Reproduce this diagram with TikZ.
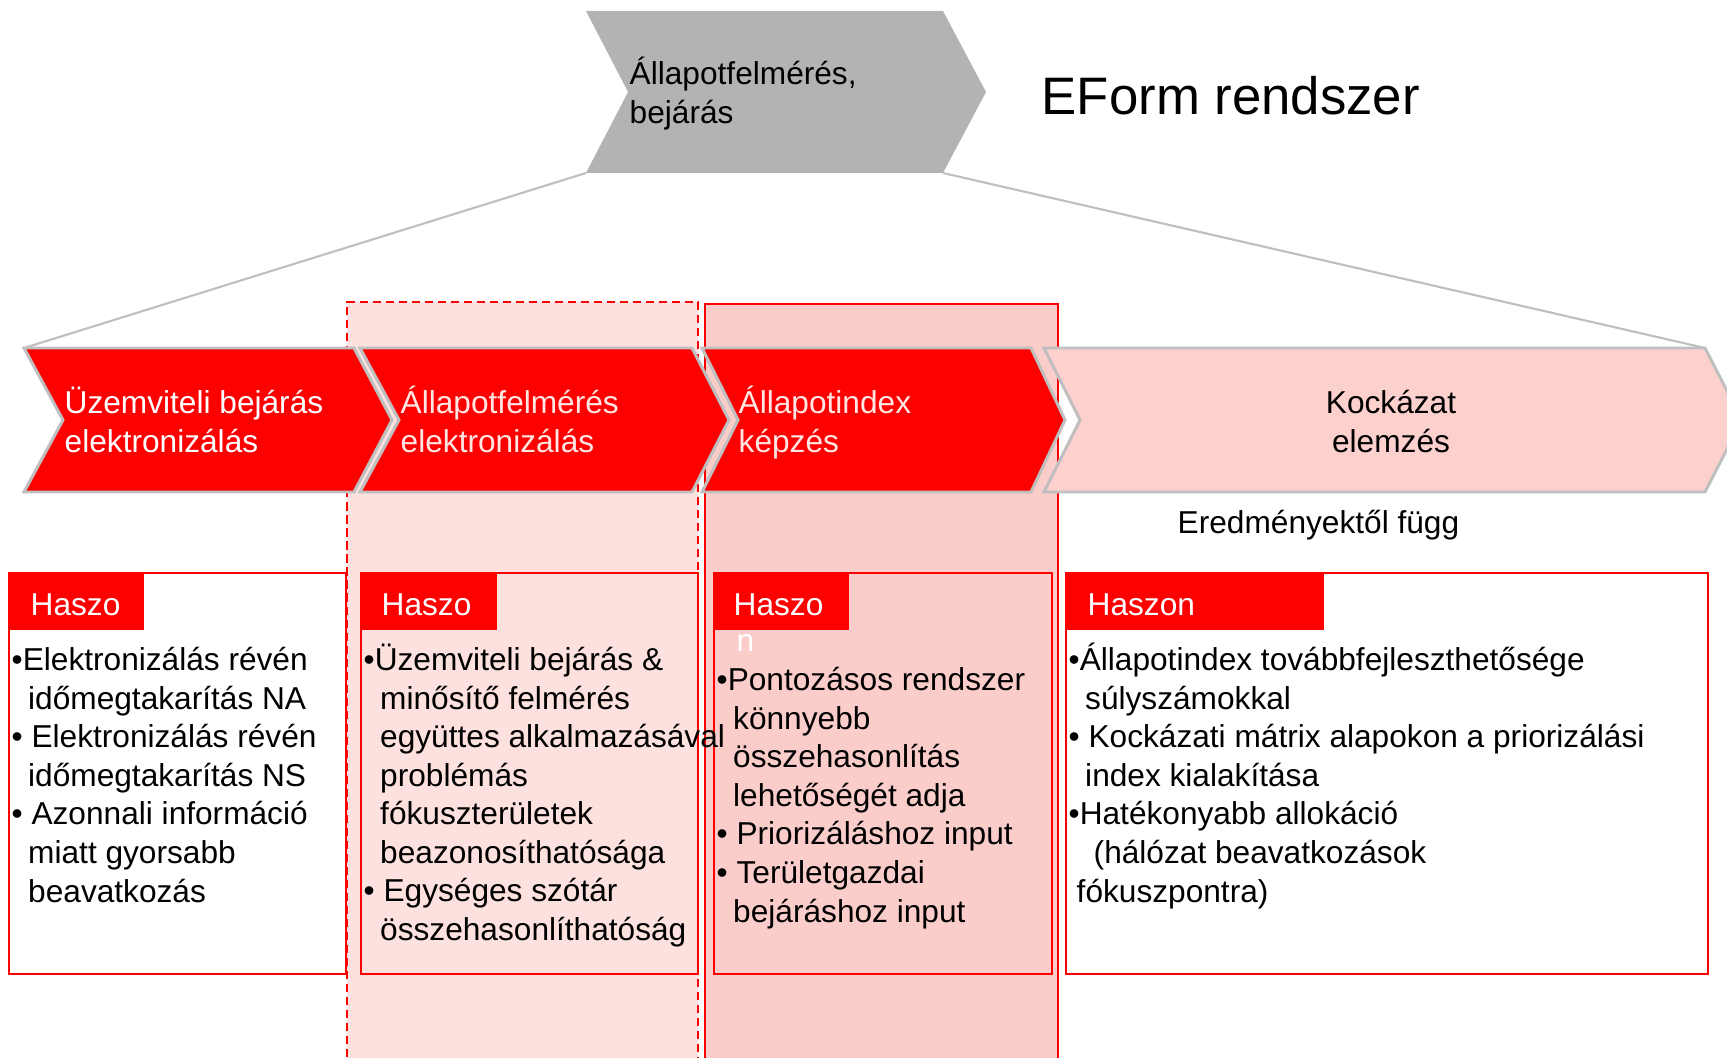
\documentclass[tikz,border=0pt]{standalone}
\usepackage{fontspec}
\setmainfont{Liberation Sans}
\usetikzlibrary{positioning}
\definecolor{mred}{HTML}{FD0000}
\definecolor{mgray}{HTML}{B3B3B3}
\definecolor{medge}{HTML}{BFBFBF}
\definecolor{mpale}{HTML}{FCD0CC}
\definecolor{mpink}{HTML}{FDE1DE}
\definecolor{mrose}{HTML}{FBCDCA}
\definecolor{mfaint}{HTML}{FFE6E3}
\newcommand{\indt}{\hspace*{0.165cm}}
\tikzset{chev/.style = {fill=mred, draw=medge, line width=0.85pt, line join=miter}}
\tikzset{link/.style = {draw=medge, line width=0.6pt}}
\tikzset{box/.style = {draw=mred, line width=0.6pt}}
\tikzset{tab/.style = {fill=mred}}
\tikzset{txt/.style = {font=\fontsize{9}{10.95}\selectfont, align=left, inner sep=0, anchor=base west}}

\begin{document}
\begin{tikzpicture}[x=0.01cm, y=-0.01cm]
    \useasboundingbox (0, 0) rectangle (1727, 1058);
    \clip (0, 0) rectangle (1727, 1058);

    % top chevron
    \fill [mgray] (586, 11) -- (943, 11) -- (986, 92) -- (943, 173) -- (586, 173) -- (628, 92) -- cycle;
    \coordinate (survey-sw) at (586, 173);
    \coordinate (survey-se) at (943, 173);
    \node [txt] (survey) at (629, 123.5) {Állapotfelmérés,\\bejárás};
    \node [txt, font=\fontsize{15}{18}\selectfont] (title) at (1041, 115) {EForm rendszer};

    % highlighted columns
    \draw [fill=mpink, draw=mred, dashed, dash pattern=on 2.3pt off 1.4pt, line width=0.5pt] (347, 1070) -- (347, 302) -- (698, 302) -- (698, 1070);
    \draw [fill=mrose, draw=mred, line width=0.5pt] (705, 1070) -- (705, 304) -- (1058, 304) -- (1058, 1070);

    % process row
    \draw [chev] (24, 348) -- (354, 348) -- (392, 420) -- (354, 492) -- (24, 492) -- (63, 420) -- cycle;
    \draw [chev] (360, 348) -- (692, 348) -- (729, 420) -- (692, 492) -- (360, 492) -- (399, 420) -- cycle;
    \draw [chev] (702, 348) -- (1031, 348) -- (1065, 420) -- (1031, 492) -- (702, 492) -- (738, 420) -- cycle;
    \draw [chev, fill=mpale] (1044, 348) -- (1705, 348) -- (1742, 420) -- (1705, 492) -- (1044, 492) -- (1080, 420) -- cycle;
    \coordinate (rowA-nw) at (24, 348);
    \coordinate (rowD-ne) at (1705, 348);

    \draw [link] (survey-sw) -- (rowA-nw);
    \draw [link] (survey-se) -- (rowD-ne);

    \node [txt, white] (rowA) at (64, 452.5) {Üzemviteli bejárás\\elektronizálás};
    \node [txt, mfaint] (rowB) at (400, 452.5) {Állapotfelmérés\\elektronizálás};
    \node [txt, mfaint] (rowC) at (738, 452.5) {Állapotindex\\képzés};
    \node [txt, align=center, anchor=base] (rowD) at (1391, 452.5) {Kockázat\\elemzés};
    \node [txt] (depends) at (1177, 534) {Eredményektől függ};

    % benefit boxes
    \draw [box, fill=white] (9, 573) rectangle (346, 974);
    \draw [box] (361, 573) rectangle (698, 974);
    \draw [box] (714, 573) rectangle (1052, 974);
    \draw [box, fill=white] (1066, 573) rectangle (1708, 974);

    \fill [tab] (9, 573) rectangle (144, 630);
    \fill [tab] (361, 573) rectangle (497, 630);
    \fill [tab] (714, 573) rectangle (849, 630);
    \fill [tab] (1066, 573) rectangle (1324, 630);

    \node [txt, white] (tabA) at (30, 615) {Haszo};
    \node [txt, white] (tabB) at (381, 615) {Haszo};
    \node [txt, white] (tabC) at (733, 615) {Haszo};
    \node [txt, white] (tabC-n) at (736, 651) {n};
    \node [txt, white] (tabD) at (1087, 615) {Haszon};

    \node [txt] (gainA) at (11, 902) {•Elektronizálás révén\\\indt időmegtakarítás NA\\• Elektronizálás révén\\\indt időmegtakarítás NS\\• Azonnali információ\\\indt miatt gyorsabb\\\indt beavatkozás};
    \node [txt] (gainB) at (363, 940.5) {•Üzemviteli bejárás \&\\\indt minősítő felmérés\\\indt együttes alkalmazásával\\\indt problémás\\\indt fókuszterületek\\\indt beazonosíthatósága\\• Egységes szótár\\\indt összehasonlíthatóság};
    \node [txt] (gainC) at (716, 922) {•Pontozásos rendszer\\\indt könnyebb\\\indt összehasonlítás\\\indt lehetőségét adja\\• Priorizáláshoz input\\• Területgazdai\\\indt bejáráshoz input};
    \node [txt] (gainD) at (1068, 902) {•Állapotindex továbbfejleszthetősége\\\indt súlyszámokkal\\• Kockázati mátrix alapokon a priorizálási\\\indt index kialakítása\\•Hatékonyabb allokáció\\\hspace*{0.25cm}(hálózat beavatkozások\\\hspace*{0.08cm}fókuszpontra)};
  \end{tikzpicture}
\end{document}
